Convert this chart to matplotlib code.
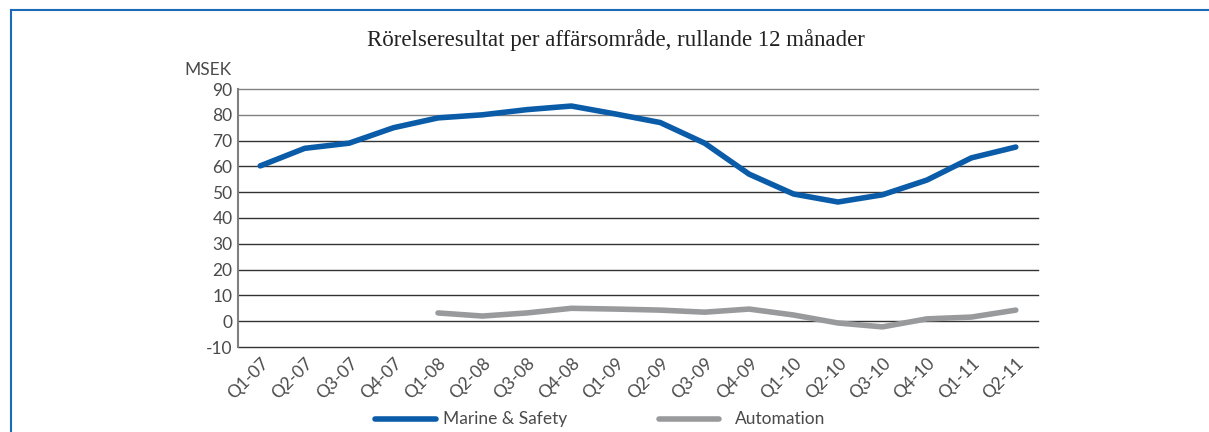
import matplotlib
matplotlib.use("Agg")
import matplotlib.pyplot as plt
from matplotlib.lines import Line2D
import numpy as np

categories = ["Q1-07", "Q2-07", "Q3-07", "Q4-07", "Q1-08", "Q2-08", "Q3-08", "Q4-08",
              "Q1-09", "Q2-09", "Q3-09", "Q4-09", "Q1-10", "Q2-10", "Q3-10", "Q4-10",
              "Q1-11", "Q2-11"]
marine_safety = [60.2, 67, 69, 75, 78.8, 80, 82, 83.4, 80.3, 77, 69, 57, 49.3, 46.2, 49, 54.7, 63.3, 67.5]
automation = [None, None, None, None, 3.2, 2.0, 3.2, 5.0, 4.7, 4.3, 3.5, 4.7, 2.4, -0.7, -2.2, 0.9, 1.6, 4.3]
yticks = [-10, 0, 10, 20, 30, 40, 50, 60, 70, 80, 90]

W, H = 1209, 432
fig = plt.figure(figsize=(W / 100, H / 100), dpi=100)
ax = fig.add_axes([238 / W, 1 - 347 / H, (1038 - 238) / W, (347 - 89) / H])

x = np.arange(len(categories))
blue = "#0a5ca8"
gray = "#999a9c"
txt = "#4a4a4a"
font = dict(family="Lato", weight="normal")

auto = np.array([np.nan if v is None else v for v in automation], dtype=float)
ax.plot(x, marine_safety, color=blue, lw=4, solid_capstyle="round", solid_joinstyle="round", zorder=3)
ax.plot(x, auto, color=gray, lw=4, solid_capstyle="round", solid_joinstyle="round", zorder=3)

ax.set_xlim(-0.5, len(categories) - 0.5)
ax.set_ylim(-10, 90)
ax.set_yticks(yticks)
ax.set_yticklabels([str(v) for v in yticks], fontsize=12.5, color=txt, **font)
for v in yticks:
    ax.axhline(v, color="#333333" if v < 80 else "#808080", lw=1.0, zorder=1, clip_on=False)
ax.set_xticks(x)
ax.set_xticklabels(categories, rotation=45, ha="right", rotation_mode="anchor",
                   fontsize=12.5, color=txt, **font)
for s in ["top", "right", "bottom"]:
    ax.spines[s].set_visible(False)
ax.spines["left"].set_color("#808080")
ax.spines["left"].set_linewidth(1.5)
ax.tick_params(axis="both", length=0, pad=4)
ax.tick_params(axis="x", pad=6)

fig.text(232 / W, 1 - 70 / H, "MSEK", ha="right", va="center", fontsize=12.5, color=txt, **font)
fig.text(616 / W, 1 - 40 / H, "Rörelseresultat per affärsområde, rullande 12 månader",
         ha="center", va="center", fontsize=16.5, color="#222222", family="Liberation Serif")

# legend
ly = 1 - 419 / H
fig.add_artist(Line2D([375 / W, 436 / W], [ly, ly], color=blue, lw=4, solid_capstyle="round"))
fig.text(443 / W, ly, "Marine & Safety", ha="left", va="center", fontsize=12.5, color=txt, **font)
fig.add_artist(Line2D([659 / W, 719 / W], [ly, ly], color=gray, lw=4, solid_capstyle="round"))
fig.text(735 / W, ly, "Automation", ha="left", va="center", fontsize=12.5, color=txt, **font)

# frame
fig.add_artist(Line2D([11 / W, 1], [1 - 10 / H, 1 - 10 / H], color="#1a6ab8", lw=1.5))
fig.add_artist(Line2D([11 / W, 11 / W], [0, 1 - 10 / H], color="#1a6ab8", lw=1.5))

fig.savefig("out.png", dpi=100)
